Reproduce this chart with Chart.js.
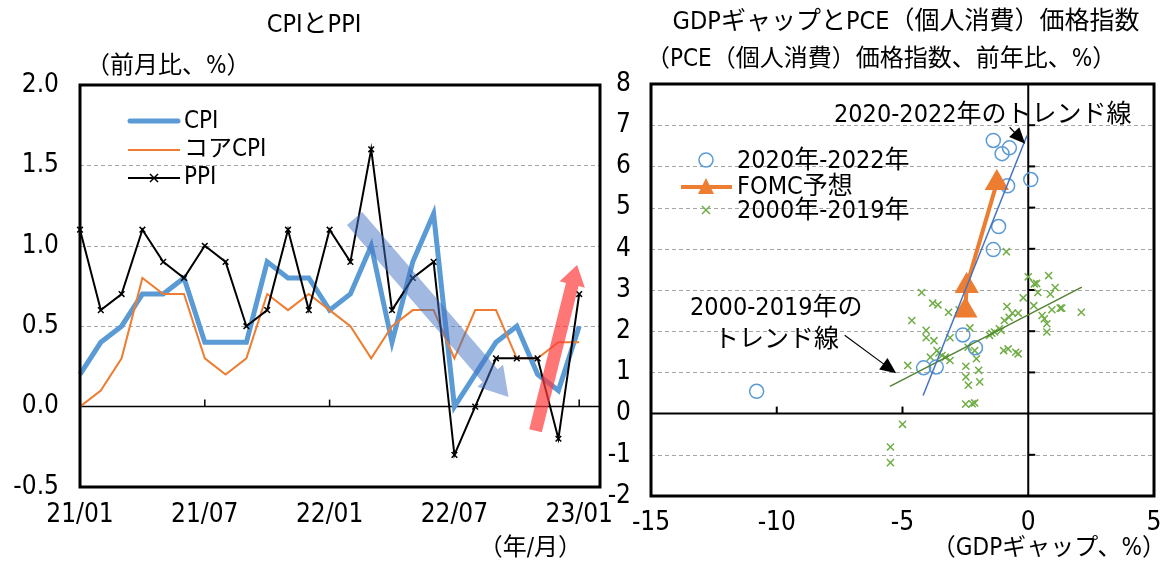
<!DOCTYPE html>
<html>
<head>
<meta charset="utf-8">
<script src="https://cdn.jsdelivr.net/npm/chart.js@4.4.0/dist/chart.umd.min.js"></script>
<style>
  html, body { margin: 0; padding: 0; background: #fff; }
  #wrap { position: relative; width: 1168px; height: 563px; overflow: hidden; }
  #left { position: absolute; left: 0; top: 0; }
  #right { position: absolute; left: 600px; top: 0; }
</style>
</head>
<body>
<div id="wrap">
  <canvas id="left" width="615" height="563"></canvas>
  <canvas id="right" width="568" height="563"></canvas>
</div>
<script>
// ---- left panel data (month on month, %) ----
const months = ['21/01','21/02','21/03','21/04','21/05','21/06','21/07','21/08','21/09','21/10','21/11','21/12',
                '22/01','22/02','22/03','22/04','22/05','22/06','22/07','22/08','22/09','22/10','22/11','22/12','23/01'];
const tickMonths = ['21/01', '21/07', '22/01', '22/07', '23/01'];
const cpi     = [0.2, 0.4, 0.5, 0.7, 0.7, 0.8, 0.4, 0.4, 0.4, 0.9, 0.8, 0.8, 0.6, 0.7, 1.0, 0.4, 0.9, 1.2, 0.0, 0.2, 0.4, 0.5, 0.2, 0.1, 0.5];
const coreCpi = [0.0, 0.1, 0.3, 0.8, 0.7, 0.7, 0.3, 0.2, 0.3, 0.7, 0.6, 0.7, 0.6, 0.5, 0.3, 0.5, 0.6, 0.6, 0.3, 0.6, 0.6, 0.3, 0.3, 0.4, 0.4];
const ppi     = [1.1, 0.6, 0.7, 1.1, 0.9, 0.8, 1.0, 0.9, 0.5, 0.6, 1.1, 0.6, 1.1, 0.9, 1.6, 0.6, 0.8, 0.9, -0.3, 0.0, 0.3, 0.3, 0.3, -0.2, 0.7];
const leftGrid = [0.5, 1.0, 1.5];

// ---- right panel data (GDP gap %, PCE y/y %) ----
const gap2020 = [-10.8, -4.16, -3.66, -2.6, -2.1, -1.39, -0.75, -1.04, 0.1, -0.82, -1.18, -1.39];
const pce2020 = [0.54, 1.11, 1.13, 1.91, 1.6, 6.63, 6.45, 6.31, 5.68, 5.53, 4.54, 3.98];
const gapFomc = [-2.5, -2.45, -1.25];
const pceFomc = [2.5, 3.1, 5.6];
const gap2000 = [-4.24, -3.8, -3.59, -3.17, -2.75, -4.63, -4.06, -4.06, -3.75, -3.11, -2.32, -3.63, -3.43, -3.3, -3.89,
                 -3.11, -4.79, -2.39, -2.13, -2.06, -2.48, -1.97, -2.48, -2.38, -1.93, -2.49, -2.23, -2.13, -1.54, -1.34,
                 -1.08, -0.95, -0.85, -0.63, -0.4, -0.76, -0.2, -0.98, -0.8, -0.5, -0.4, 0.0, 0.33, 0.38, 0.81,
                 1.07, 0.22, 0.55, 0.64, 0.74, 0.74, 0.94, 1.27, 1.33, 2.11, -0.87, -5.0, -5.48, -5.48, -3.55,
                 -1.45, -1.15, 0.24, 0.88];
const pce2000 = [2.94, 2.68, 2.64, 2.46, 2.52, 2.26, 2.02, 1.84, 1.77, 1.84, 2.08, 1.53, 1.41, 1.37, 1.37,
                 1.29, 1.17, 1.61, 1.53, 1.33, 1.15, 1.05, 0.89, 0.69, 0.77, 0.23, 0.24, 0.26, 1.9, 1.98,
                 2.02, 2.26, 2.6, 2.44, 2.44, 2.34, 2.81, 1.53, 1.57, 1.49, 1.45, 3.32, 3.16, 2.94, 3.35,
                 3.06, 2.62, 2.38, 2.3, 2.18, 1.98, 2.52, 2.56, 2.56, 2.46, 3.93, -0.26, -0.81, -1.19, 1.47,
                 1.95, 2.06, 3.15, 2.9];
const trend2020 = { gap: [-4.18, -0.05], pce: [0.44, 6.75] };
const trend2000 = { gap: [-5.5, 2.13], pce: [0.66, 3.07] };
const rightGrid = [-1, 1, 2, 3, 4, 5, 6, 7];

const FONT = '"Liberation Sans Narrow", "DejaVu Sans Condensed", "Noto Sans CJK JP", sans-serif';

function text(ctx, s, x, y, size, align) {
  ctx.font = size + 'px ' + FONT;
  ctx.fillStyle = '#000';
  ctx.textAlign = align || 'left';
  ctx.textBaseline = 'middle';
  ctx.fillText(s, x, y);
}

// wide translucent arrow (the trend arrows on the CPI panel)
function blockArrow(ctx, x1, y1, x2, y2, w, hw, hl, color) {
  const ang = Math.atan2(y2 - y1, x2 - x1), len = Math.hypot(x2 - x1, y2 - y1);
  ctx.save();
  ctx.translate(x1, y1);
  ctx.rotate(ang);
  ctx.beginPath();
  ctx.moveTo(0, -w / 2);
  ctx.lineTo(len - hl, -w / 2);
  ctx.lineTo(len - hl, -hw / 2);
  ctx.lineTo(len, 0);
  ctx.lineTo(len - hl, hw / 2);
  ctx.lineTo(len - hl, w / 2);
  ctx.lineTo(0, w / 2);
  ctx.closePath();
  ctx.fillStyle = color;
  ctx.fill();
  ctx.restore();
}

// thin callout arrow
function lineArrow(ctx, x1, y1, x2, y2) {
  const ang = Math.atan2(y2 - y1, x2 - x1), len = Math.hypot(x2 - x1, y2 - y1);
  ctx.save();
  ctx.translate(x1, y1);
  ctx.rotate(ang);
  ctx.strokeStyle = '#000';
  ctx.lineWidth = 1.2;
  ctx.beginPath();
  ctx.moveTo(0, 0);
  ctx.lineTo(len - 12, 0);
  ctx.stroke();
  ctx.beginPath();
  ctx.moveTo(len, 0);
  ctx.lineTo(len - 16, -7);
  ctx.lineTo(len - 16, 7);
  ctx.closePath();
  ctx.fillStyle = '#000';
  ctx.fill();
  ctx.restore();
}

// keep tick labels from squeezing the plot area sideways
function noSidePadding(scale) {
  scale.paddingLeft = 0;
  scale.paddingRight = 0;
}

const downArrow = { from: [13.2, 1.17], to: [20.6, 0.06] };
const upArrow = { from: [21.9, -0.15], to: [23.9, 0.88] };

const leftDeco = {
  id: 'leftDeco',
  beforeDatasetsDraw(chart) {
    const { ctx, chartArea: a, scales: { x, y } } = chart;
    ctx.save();
    ctx.strokeStyle = '#a6a6a6';
    ctx.lineWidth = 1;
    ctx.setLineDash([4, 3]);
    leftGrid.forEach(v => {
      const py = Math.round(y.getPixelForValue(v)) + 0.5;
      ctx.beginPath(); ctx.moveTo(a.left, py); ctx.lineTo(a.right, py); ctx.stroke();
    });
    ctx.setLineDash([]);
    const y0 = y.getPixelForValue(0);
    ctx.strokeStyle = '#000';
    ctx.lineWidth = 1.5;
    ctx.beginPath(); ctx.moveTo(a.left, y0); ctx.lineTo(a.right, y0); ctx.stroke();
    tickMonths.forEach(m => {
      const px = x.getPixelForValue(months.indexOf(m));
      ctx.beginPath(); ctx.moveTo(px, y0); ctx.lineTo(px, y0 - 7); ctx.stroke();
    });
    ctx.restore();
  },
  afterDatasetsDraw(chart) {
    const { ctx, scales: { x, y } } = chart;
    blockArrow(ctx, x.getPixelForValue(downArrow.from[0]), y.getPixelForValue(downArrow.from[1]),
      x.getPixelForValue(downArrow.to[0]), y.getPixelForValue(downArrow.to[1]), 20, 34, 28, 'rgba(68,114,196,0.5)');
    blockArrow(ctx, x.getPixelForValue(upArrow.from[0]), y.getPixelForValue(upArrow.from[1]),
      x.getPixelForValue(upArrow.to[0]), y.getPixelForValue(upArrow.to[1]), 13, 26, 20, 'rgba(255,60,60,0.7)');
  },
  afterDraw(chart) {
    const { ctx, chartArea: a } = chart;
    ctx.save();
    ctx.strokeStyle = '#000';
    ctx.lineWidth = 3;
    ctx.strokeRect(a.left, a.top, a.right - a.left, a.bottom - a.top);
    // legend
    ctx.lineCap = 'round';
    ctx.strokeStyle = '#5B9BD5'; ctx.lineWidth = 5;
    ctx.beginPath(); ctx.moveTo(130, 121); ctx.lineTo(178, 121); ctx.stroke();
    ctx.lineCap = 'butt';
    ctx.strokeStyle = '#ED7D31'; ctx.lineWidth = 2;
    ctx.beginPath(); ctx.moveTo(128, 150); ctx.lineTo(180, 150); ctx.stroke();
    ctx.strokeStyle = '#000';
    ctx.beginPath(); ctx.moveTo(128, 178); ctx.lineTo(180, 178); ctx.stroke();
    ctx.lineWidth = 1.5;
    ctx.beginPath(); ctx.moveTo(150, 174); ctx.lineTo(158, 182); ctx.moveTo(158, 174); ctx.lineTo(150, 182); ctx.stroke();
    text(ctx, 'CPI', 184, 122, 24);
    text(ctx, 'コアCPI', 184, 150, 24);
    text(ctx, 'PPI', 184, 178, 24);
    // titles
    text(ctx, 'CPIとPPI', 314, 25, 25, 'center');
    text(ctx, '（前月比、%）', 86, 67, 24);
    text(ctx, '（年/月）', 582, 549, 24, 'right');
    ctx.restore();
  }
};

new Chart(document.getElementById('left'), {
  type: 'line',
  data: {
    labels: months.concat(['']),
    datasets: [
      { label: 'CPI', data: cpi, borderColor: '#5B9BD5', borderWidth: 5, pointRadius: 0, order: 3 },
      { label: 'コアCPI', data: coreCpi, borderColor: '#ED7D31', borderWidth: 2, pointRadius: 0, order: 2 },
      { label: 'PPI', data: ppi, borderColor: '#000', borderWidth: 2, pointStyle: 'crossRot', pointRadius: 4,
        pointBorderColor: '#000', pointBorderWidth: 1.5, order: 1 }
    ]
  },
  options: {
    responsive: false,
    animation: false,
    events: [],
    layout: { padding: { top: 85, right: 15, left: 0, bottom: 0 } },
    plugins: { legend: { display: false }, tooltip: { enabled: false } },
    scales: {
      x: {
        grid: { display: false, drawTicks: true, tickLength: 13 },
        border: { display: false },
        afterFit(scale) { scale.height = 76; noSidePadding(scale); },
        ticks: {
          autoSkip: false, maxRotation: 0, minRotation: 0, padding: 0, color: '#000',
          font: { family: FONT, size: 26 },
          callback: (v, i) => tickMonths.includes(months[i]) ? months[i] : ''
        }
      },
      y: {
        min: -0.5, max: 2.0,
        grid: { display: false },
        border: { display: false },
        afterFit(scale) { scale.width = 80; },
        ticks: {
          stepSize: 0.5, padding: 13, color: '#000',
          font: { family: FONT, size: 26 },
          callback: v => v.toFixed(1)
        }
      }
    }
  },
  plugins: [leftDeco]
});

// ---- right panel ----
const note2020 = { from: [-0.74, 6.95], to: [-0.12, 6.55] };
const note2000 = { from: [-7.3, 1.9], to: [-5.25, 0.98] };

const rightDeco = {
  id: 'rightDeco',
  beforeDatasetsDraw(chart) {
    const { ctx, chartArea: a, scales: { x, y } } = chart;
    ctx.save();
    ctx.strokeStyle = '#a6a6a6';
    ctx.lineWidth = 1;
    ctx.setLineDash([4, 3]);
    rightGrid.forEach(v => {
      const py = Math.round(y.getPixelForValue(v)) + 0.5;
      ctx.beginPath(); ctx.moveTo(a.left, py); ctx.lineTo(a.right, py); ctx.stroke();
    });
    ctx.setLineDash([]);
    const y0 = y.getPixelForValue(0), x0 = x.getPixelForValue(0);
    ctx.strokeStyle = '#000';
    ctx.lineWidth = 2;
    ctx.beginPath(); ctx.moveTo(a.left, y0); ctx.lineTo(a.right, y0); ctx.stroke();
    ctx.beginPath(); ctx.moveTo(x0, a.top); ctx.lineTo(x0, a.bottom); ctx.stroke();
    [-10, -5].forEach(v => {
      const px = x.getPixelForValue(v);
      ctx.beginPath(); ctx.moveTo(px, y0); ctx.lineTo(px, y0 - 7); ctx.stroke();
    });
    rightGrid.forEach(v => {
      const py = y.getPixelForValue(v);
      ctx.beginPath(); ctx.moveTo(x0, py); ctx.lineTo(x0 + 7, py); ctx.stroke();
    });
    ctx.restore();
  },
  afterDraw(chart) {
    const { ctx, chartArea: a, scales: { x, y } } = chart;
    ctx.save();
    ctx.strokeStyle = '#000';
    ctx.lineWidth = 3;
    ctx.strokeRect(a.left, a.top, a.right - a.left, a.bottom - a.top);
    lineArrow(ctx, x.getPixelForValue(note2020.from[0]), y.getPixelForValue(note2020.from[1]),
      x.getPixelForValue(note2020.to[0]), y.getPixelForValue(note2020.to[1]));
    lineArrow(ctx, x.getPixelForValue(note2000.from[0]), y.getPixelForValue(note2000.from[1]),
      x.getPixelForValue(note2000.to[0]), y.getPixelForValue(note2000.to[1]));
    text(ctx, '2020-2022年のトレンド線', 234, 115, 25);
    text(ctx, '2000-2019年の', 90, 308, 25);
    text(ctx, 'トレンド線', 114, 340, 25);
    // legend
    ctx.strokeStyle = '#5B9BD5'; ctx.lineWidth = 1.5;
    ctx.beginPath(); ctx.arc(106, 160, 7, 0, Math.PI * 2); ctx.stroke();
    ctx.strokeStyle = '#ED7D31'; ctx.lineWidth = 4;
    ctx.beginPath(); ctx.moveTo(81, 187); ctx.lineTo(132, 187); ctx.stroke();
    ctx.fillStyle = '#ED7D31';
    ctx.beginPath(); ctx.moveTo(106, 178); ctx.lineTo(114, 194); ctx.lineTo(98, 194); ctx.closePath(); ctx.fill();
    ctx.strokeStyle = '#70AD47'; ctx.lineWidth = 1.5;
    ctx.beginPath(); ctx.moveTo(102, 206); ctx.lineTo(110, 214); ctx.moveTo(110, 206); ctx.lineTo(102, 214); ctx.stroke();
    text(ctx, '2020年-2022年', 137, 161, 25);
    text(ctx, 'FOMC予想', 137, 187, 25);
    text(ctx, '2000年-2019年', 137, 211, 25);
    // titles
    text(ctx, 'GDPギャップとPCE（個人消費）価格指数', 306, 22, 25, 'center');
    text(ctx, '（PCE（個人消費）価格指数、前年比、%）', 46, 60, 24);
    text(ctx, '（GDPギャップ、%）', 566, 549, 24, 'right');
    ctx.restore();
  }
};

const pts = (xs, ys) => xs.map((v, i) => ({ x: v, y: ys[i] }));

new Chart(document.getElementById('right'), {
  type: 'scatter',
  data: {
    datasets: [
      { label: '2020-2022年のトレンド線', type: 'line', data: pts(trend2020.gap, trend2020.pce), borderColor: '#4472C4',
        borderWidth: 1.5, pointRadius: 0, order: 1 },
      { label: '2000-2019年のトレンド線', type: 'line', data: pts(trend2000.gap, trend2000.pce), borderColor: '#548235',
        borderWidth: 1.5, pointRadius: 0, order: 1 },
      { label: 'FOMC予想', type: 'line', data: pts(gapFomc, pceFomc), borderColor: '#ED7D31', borderWidth: 4,
        pointStyle: 'triangle', pointRadius: 10, pointBackgroundColor: '#ED7D31', pointBorderColor: '#ED7D31', order: 2 },
      { label: '2020年-2022年', data: pts(gap2020, pce2020), pointStyle: 'circle', pointRadius: 7,
        pointBorderColor: '#5B9BD5', pointBackgroundColor: 'rgba(0,0,0,0)', pointBorderWidth: 1.5, order: 3 },
      { label: '2000年-2019年', data: pts(gap2000, pce2000), pointStyle: 'crossRot', pointRadius: 5,
        pointBorderColor: '#70AD47', pointBorderWidth: 1.5, order: 4 }
    ]
  },
  options: {
    responsive: false,
    animation: false,
    events: [],
    layout: { padding: { top: 84, right: 6, left: 0, bottom: 0 } },
    plugins: { legend: { display: false }, tooltip: { enabled: false } },
    scales: {
      x: {
        type: 'linear', min: -15, max: 5,
        grid: { display: false, drawTicks: true, tickLength: 12 },
        border: { display: false },
        afterFit(scale) { scale.height = 67; noSidePadding(scale); },
        ticks: { stepSize: 5, padding: 0, color: '#000', font: { family: FONT, size: 26 } }
      },
      y: {
        min: -2, max: 8,
        grid: { display: false },
        border: { display: false },
        afterFit(scale) { scale.width = 51; },
        ticks: { stepSize: 1, padding: 12, color: '#000', font: { family: FONT, size: 26 } }
      }
    }
  },
  plugins: [rightDeco]
});
</script>
</body>
</html>
